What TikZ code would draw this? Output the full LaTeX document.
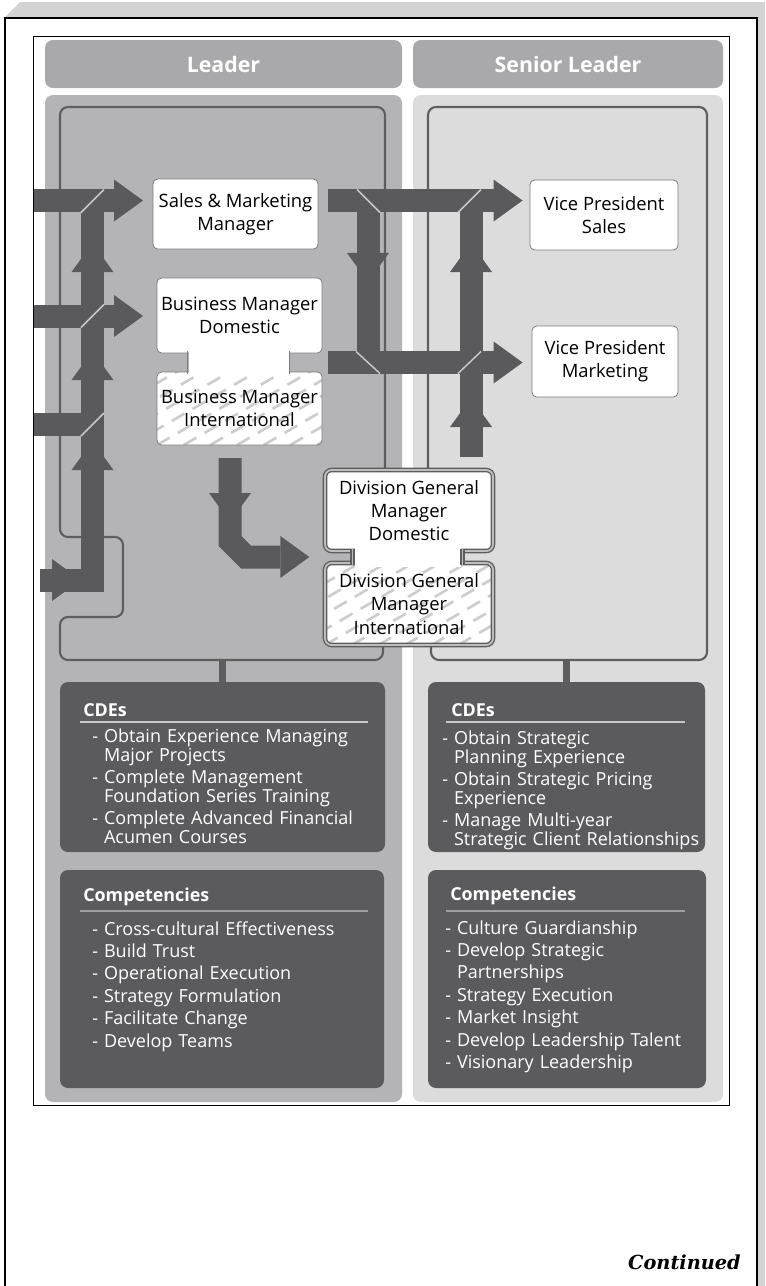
\documentclass[tikz,border=0pt]{standalone}
\usepackage{fontspec}
\setmainfont{Open Sans}
\newfontfamily\contfont{DejaVu Serif}
\usetikzlibrary{arrows.meta,decorations.markings}

\definecolor{bandgray}{HTML}{D3D3D3}
\definecolor{headgray}{HTML}{A9A9AB}
\definecolor{leadgray}{HTML}{B4B4B6}
\definecolor{seniorgray}{HTML}{DCDCDC}
\definecolor{linegray}{HTML}{5E5E5E}
\definecolor{flowgray}{HTML}{5A5A5C}
\definecolor{panelgray}{HTML}{5B5B5D}
\definecolor{hatchgray}{HTML}{CDCDCD}
\definecolor{rimgray}{HTML}{7C7C7C}
\definecolor{dgmgray}{HTML}{BDBDBD}
\definecolor{seamgray}{HTML}{C8C8C8}

\newcommand\postfont{\fontsize{13.8}{17.5}\selectfont}
\newcommand\cdefont{\fontsize{13.5}{14.25}\selectfont\lineskiplimit=-20pt}
\newcommand\compfont{\fontsize{13.5}{16.8}\selectfont}
\newcommand\panelfont{\fontsize{13.4}{16}\selectfont\bfseries}
\newcommand\colfont{\fontsize{16}{19}\selectfont\bfseries}
\newcommand\wrapline{\\\hphantom{-~}}

\tikzset{
  flow/.style={flowgray, line width=17.25pt},
  midtip/.style={postaction={decorate,decoration={markings,mark=at position #1 with {\arrow{>}}}}},
  seamline/.style={draw=seamgray, line width=1.1pt},
  ringline/.style={draw=linegray, line width=1.6pt, rounded corners=6pt},
  rolebox/.style={draw=rimgray, line width=0.6pt, fill=white, rounded corners=3.5pt,
    font=\postfont, align=center, inner sep=0pt},
  twinbox/.style={draw=linegray, line width=1pt, double=dgmgray, double distance=1.4pt,
    fill=white, rounded corners=5pt, font=\postfont, align=center, inner sep=0pt},
  hatchfill/.style={path picture={
    \foreach \k in {-5,...,7}
      \draw[hatchgray, line width=2pt, dash pattern=on 11pt off 7pt]
        ([xshift=\k*20pt]path picture bounding box.south west) -- ++(200,-116);}},
  colhead/.style={fill=headgray, rounded corners=6pt, text=white, font=\colfont, inner sep=0pt},
  darkpanel/.style={fill=panelgray, rounded corners=6pt, inner sep=0pt},
  panelhead/.style={text=white, font=\panelfont, anchor=base west, inner sep=0pt},
  itemlist/.style={text=white, text width=260pt, align=left, anchor=base west, inner sep=0pt},
  cderule/.style={draw=seamgray, line width=1.4pt},
  comprule/.style={draw=black!38, line width=2.2pt},
  panelstem/.style={draw=linegray, line width=5pt},
}

\begin{document}
\begin{tikzpicture}[x=0.75pt, y=-0.75pt, >={Triangle[width=31.5pt,length=21.75pt,line width=0pt]}]
\useasboundingbox (0,0) rectangle (765,1286);
\fill[white] (0,0) rectangle (765,1286);
% sheet edge
\fill[bandgray] (4,18) -- (20,2) -- (765,2) -- (765,1286) -- (757,1286) -- (757,18) -- cycle;
\draw[line width=0.9pt] (5,1286) -- (5,18) -- (757,18) -- (757,1286);
\draw[line width=0.7pt] (33,36) rectangle (729,1105);
%
\node[colhead, minimum width=267.75pt, minimum height=36pt] (leader) at (223.5,64) {Leader};
\node[colhead, minimum width=232.5pt, minimum height=36pt] (senior) at (568,64) {Senior Leader};
\fill[leadgray, rounded corners=6pt] (45,95) rectangle (402,1102);
\fill[seniorgray, rounded corners=6pt] (413,95) rectangle (723,1102);
%
\draw[ringline] (385,472) -- (385,107) -- (60,107) -- (60,537) -- (123,537) -- (123,617)
  -- (60,617) -- (60,660) -- (383,660) -- (383,646);
\draw[ringline] (428,472) -- (428,107) -- (707,107) -- (707,660) -- (431,660) -- (431,646);
%
\node[rolebox, minimum width=123.75pt, minimum height=52.5pt] (smm) at (235.5,214) {Sales \& Marketing\\Manager};
\node[rolebox, minimum width=123.75pt, minimum height=56.25pt] (bmd) at (239.5,315.5) {Business Manager\\Domestic};
\node[rolebox, hatchfill, minimum width=123.75pt, minimum height=54.75pt] (bmi) at (239.5,408.5) {Business Manager\\International};
\fill[white] (188.5,350) rectangle (288.5,375);
\draw[rimgray, line width=0.6pt] (187.5,351) -- (187.5,374) (289.5,351) -- (289.5,374);
%
\node[twinbox, minimum width=126pt, minimum height=60.75pt] (dgmd) at (409,510.5) {Division General\\Manager\\Domestic};
\node[twinbox, hatchfill, minimum width=126pt, minimum height=61.5pt] (dgmi) at (409,604) {Division General\\Manager\\International};
\fill[white] (355,547) rectangle (461,567);
\draw[linegray, line width=1pt, double=dgmgray, double distance=1.4pt] (352.5,549) -- (352.5,565) (462.5,549) -- (462.5,565);
%
\node[rolebox, minimum width=111pt, minimum height=52.5pt] (vps) at (604,215) {Vice President\\Sales};
\node[rolebox, minimum width=109.5pt, minimum height=53.25pt] (vpm) at (605,361.5) {Vice President\\Marketing};
%
% feeds on the left
\coordinate (in1) at (34,200.5);
\coordinate (in2) at (34,316);
\coordinate (in3) at (34,424.5);
\coordinate (in4) at (40,580);
\coordinate (busfoot) at (92.5,580);
\coordinate (tipline) at (143,0);
\draw[flow, midtip=30.75pt, midtip=143.6pt, midtip=211.1pt, midtip=292.1pt] (in4) -- (busfoot) -- (busfoot |- in1);
\draw[flow, ->] (in1) -- (in1 -| tipline);
\draw[flow, ->] (in2) -- (in2 -| tipline);
\draw[flow] (in3) -- (in3 -| busfoot);
% moves to senior roles
\coordinate (bmneck) at (239.5,362.5);
\coordinate (splitA) at (368,200.5);
\coordinate (joinB) at (471,200.5);
\coordinate (dgmup) at (471,457);
\draw[flow, ->, shorten <=7.5pt, shorten >=5.25pt] (in1 -| smm.east) -- (in1 -| vps.west);
\draw[flow, ->, shorten <=4.5pt, shorten >=6.75pt] (bmneck -| bmd.east) -- (bmneck -| vpm.west);
\draw[flow, midtip=61.1pt] (splitA) -- (splitA |- bmneck);
\draw[flow, midtip=44.25pt, midtip=160.5pt] (dgmup) -- (joinB);
% down to the division roles
\coordinate (bmdown) at (230,458);
\coordinate (dgmneck) at (409,557);
\draw[flow, ->, midtip=48pt, shorten >=11.25pt] (bmdown) -- ++(0,83) -- ++(16,16) -- (dgmneck -| dgmd.west);
% joints
\draw[seamline] (81,212.5) -- (104,189.5);
\draw[seamline] (81,327.5) -- (104,304.5);
\draw[seamline] (81,436) -- (104,413);
\draw[seamline] (357,189.5) -- (380,212.5);
\draw[seamline] (458,212.5) -- (481,189.5);
\draw[seamline] (356,351.5) -- (380,373.5);
\draw[seamline] (458,373.5) -- (481,351.5);
%
\node[darkpanel, minimum width=243.75pt, minimum height=127.5pt] (cdeL) at (222.5,767) {};
\node[darkpanel, minimum width=207.75pt, minimum height=127.5pt] (cdeR) at (566.5,767) {};
\node[darkpanel, minimum width=243pt, minimum height=163.5pt] (compL) at (222,979) {};
\node[darkpanel, minimum width=208.5pt, minimum height=163.5pt] (compR) at (567,979) {};
\draw[panelstem] (cdeL.north) -- ++(0,-22);
\draw[panelstem] (cdeR.north) -- ++(0,-22);
%
\node[panelhead] (cdeLhead) at (83,716) {CDEs};
\draw[cderule] (80,722) -- (368,722);
\node[itemlist, font=\cdefont] (cdeLlist) at (92,742) {- Obtain Experience Managing\wrapline Major Projects\\[2.6pt]- Complete Management\wrapline Foundation Series Training\\[2.6pt]- Complete Advanced Financial\wrapline Acumen Courses};
\node[panelhead] (cdeRhead) at (451,716) {CDEs};
\draw[cderule] (446,722) -- (685,722);
\node[itemlist, font=\cdefont] (cdeRlist) at (442,744) {- Obtain Strategic\wrapline Planning Experience\\[2.6pt]- Obtain Strategic Pricing\wrapline Experience\\[2.6pt]- Manage Multi-year\wrapline Strategic Client Relationships};
%
\node[panelhead] (compLhead) at (83,901) {Competencies};
\draw[comprule] (80,911) -- (368,911);
\node[itemlist, font=\compfont] (compLlist) at (92,935) {- Cross-cultural Effectiveness\\- Build Trust\\- Operational Execution\\- Strategy Formulation\\- Facilitate Change\\- Develop Teams};
\node[panelhead] (compRhead) at (450,900) {Competencies};
\draw[comprule] (446,911) -- (685,911);
\node[itemlist, font=\compfont] (compRlist) at (445,934) {- Culture Guardianship\\- Develop Strategic\wrapline Partnerships\\- Strategy Execution\\- Market Insight\\- Develop Leadership Talent\\- Visionary Leadership};
%
\node[anchor=base east, inner sep=0pt, font=\contfont\bfseries\itshape\fontsize{14.5}{18}\selectfont] (cont) at (741,1269) {Continued};
\end{tikzpicture}
\end{document}
